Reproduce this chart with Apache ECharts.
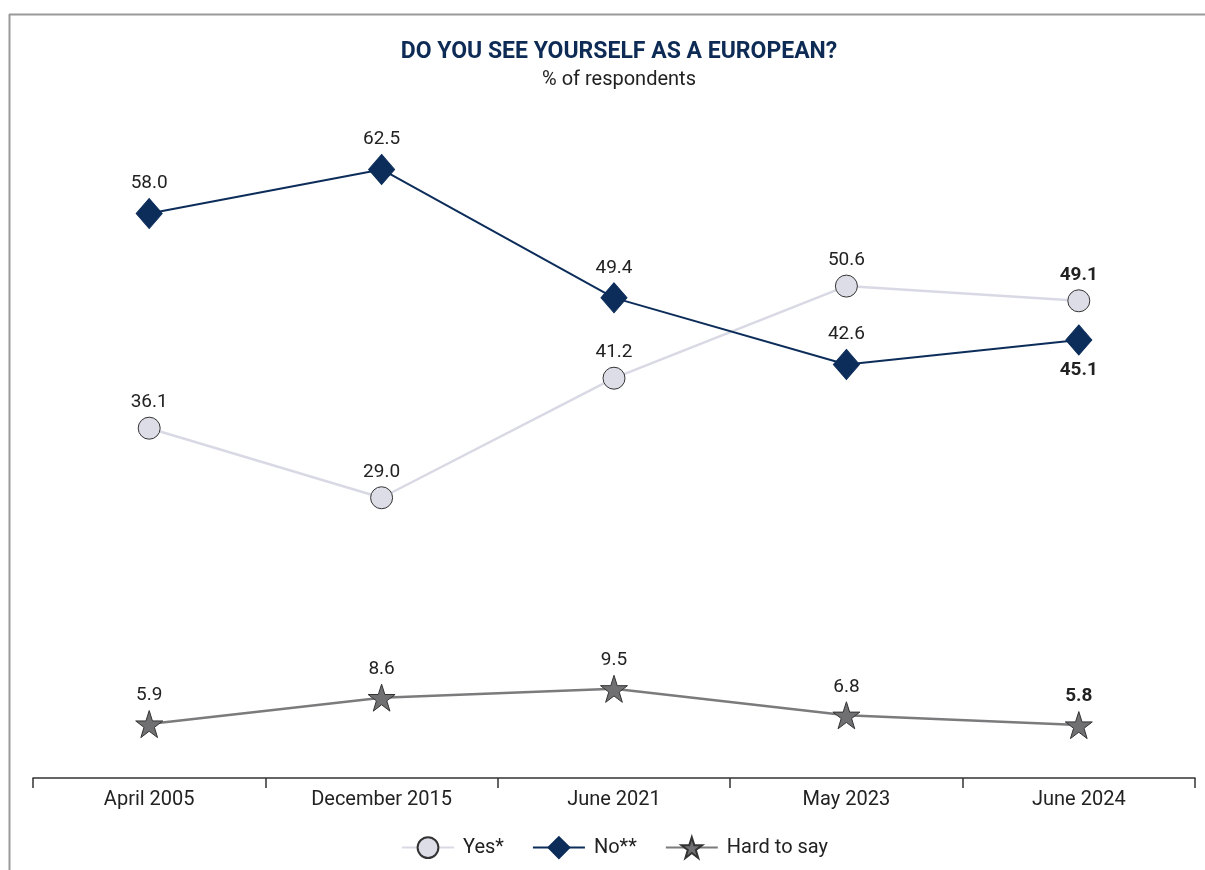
<!DOCTYPE html>
<html>
<head>
<meta charset="utf-8">
<script src="https://cdn.jsdelivr.net/npm/echarts@6/dist/echarts.min.js"></script>
<style>
  html, body { margin: 0; padding: 0; background: #fff; }
  #chart { width: 1205px; height: 870px; }
</style>
</head>
<body>
<div id="chart"></div>
<script>
// Survey waves (x axis)
var waves = ['April 2005', 'December 2015', 'June 2021', 'May 2023', 'June 2024'];

// % of respondents
var yesValues  = [36.1, 29.0, 41.2, 50.6, 49.1];
var noValues   = [58.0, 62.5, 49.4, 42.6, 45.1];
var hardValues = [5.9, 8.6, 9.5, 6.8, 5.8];

var seriesNames = ['Yes*', 'No**', 'Hard to say'];

var STAR = 'path://M50,2 L61.8,37.6 L99,37.6 L68.9,59.6 L80.3,95 L50,73 L19.7,95 L31.1,59.6 L1,37.6 L38.2,37.6 Z';
var FONT = 'Roboto, "Noto Sans", sans-serif';

// last wave gets bold labels, label position may differ per series
function buildData(values, pos) {
    return values.map(function (v, i) {
        var last = i === values.length - 1;
        return {
            value: v,
            label: {
                position: last && pos ? pos : 'top',
                fontWeight: last ? 'bold' : 'normal'
            }
        };
    });
}

var chart = echarts.init(document.getElementById('chart'));

var labelBase = {
    show: true,
    fontSize: 19,
    color: '#222',
    fontFamily: FONT,
    distance: 5,
    formatter: function (p) { return p.value.toFixed(1); }
};

var option = {
    animation: false,
    title: {
        text: 'DO YOU SEE YOURSELF AS A EUROPEAN?',
        subtext: '% of respondents',
        left: 614,
        textAlign: 'center',
        top: 36,
        itemGap: 6,
        textStyle: {
            fontFamily: FONT,
            fontSize: 23,
            fontWeight: 'bold',
            color: '#0d2b55'
        },
        subtextStyle: {
            fontFamily: FONT,
            fontSize: 20,
            color: '#222'
        }
    },
    legend: {
        bottom: 6,
        left: 396,
        itemWidth: 52,
        itemHeight: 26,
        itemGap: 28,
        textStyle: { fontFamily: FONT, fontSize: 20, color: '#222', padding: [0, 0, 0, 4] },
        data: seriesNames
    },
    grid: { left: 33, right: 10, top: 96, bottom: 92 },
    xAxis: {
        type: 'category',
        data: waves,
        boundaryGap: true,
        axisLine: { lineStyle: { color: '#333', width: 1.5 } },
        axisTick: { show: true, length: 10, lineStyle: { color: '#333', width: 1.5 } },
        axisLabel: { fontFamily: FONT, fontSize: 20, color: '#222', margin: 12 }
    },
    yAxis: {
        type: 'value',
        min: 0.4,
        max: 70,
        show: false,
        splitLine: { show: false }
    },
    graphic: [
        { type: 'line', shape: { x1: 9, y1: 14.5, x2: 1205, y2: 14.5 }, style: { stroke: '#9a9a9a', lineWidth: 2 } },
        { type: 'line', shape: { x1: 9.5, y1: 14, x2: 9.5, y2: 870 }, style: { stroke: '#9a9a9a', lineWidth: 2 } }
    ],
    series: [
        {
            name: seriesNames[0],
            type: 'line',
            data: buildData(yesValues),
            symbol: 'circle',
            symbolSize: 22,
            lineStyle: { color: '#d9d9e5', width: 2.5 },
            itemStyle: { color: '#dcdde7', borderColor: '#333', borderWidth: 1 },
            label: labelBase,
            z: 2
        },
        {
            name: seriesNames[1],
            type: 'line',
            data: buildData(noValues, 'bottom'),
            symbol: 'diamond',
            symbolSize: [26, 30],
            lineStyle: { color: '#0c2d5a', width: 2 },
            itemStyle: { color: '#0c2d5a', borderColor: '#0c2d5a', borderWidth: 1 },
            label: labelBase,
            z: 3
        },
        {
            name: seriesNames[2],
            type: 'line',
            data: buildData(hardValues),
            symbol: STAR,
            symbolSize: 27,
            lineStyle: { color: '#7b7b7d', width: 2.5 },
            itemStyle: { color: '#707073', borderColor: '#333', borderWidth: 1 },
            label: labelBase,
            z: 2
        }
    ]
};

chart.setOption(option);
</script>
</body>
</html>
